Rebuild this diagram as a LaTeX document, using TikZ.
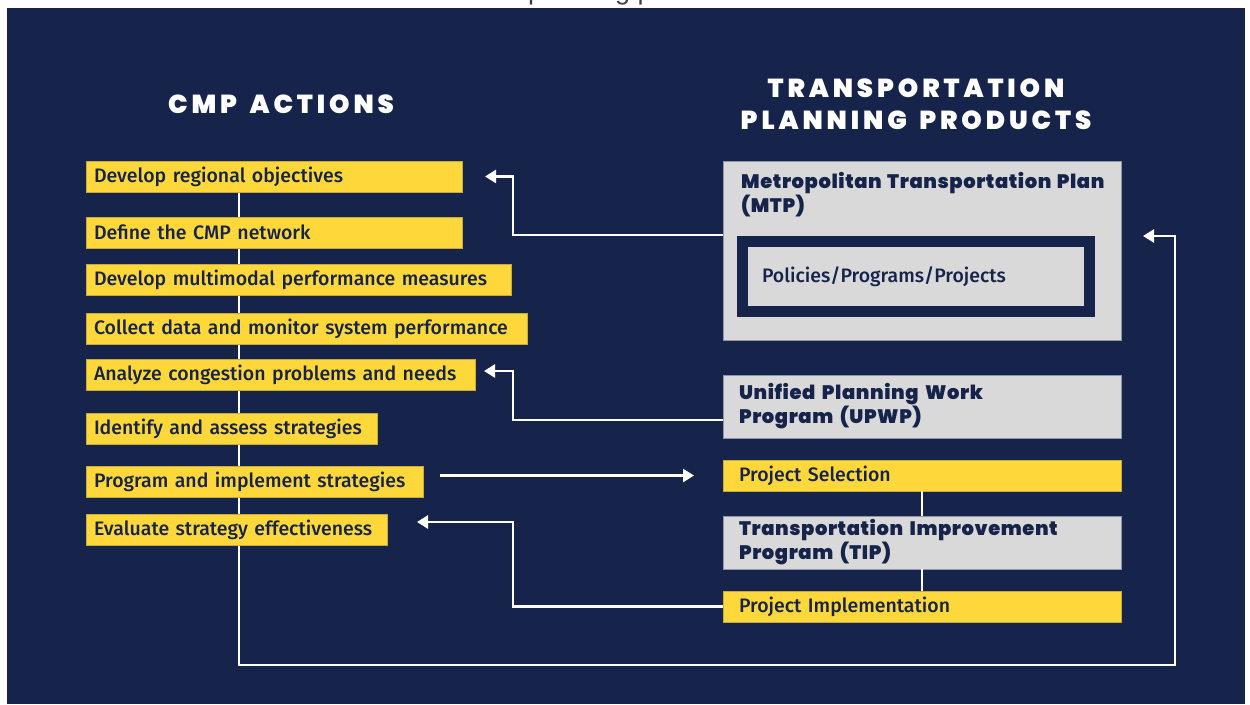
\documentclass[tikz,border=0pt]{standalone}
\usepackage{fontspec}
\setmainfont{Fira Sans}[UprightFont=* Medium]
\newfontfamily\headfont{Poppins}[UprightFont=* Black, LetterSpace=15, WordSpace=1.5]
\newfontfamily\titlefont{Poppins}[UprightFont=* Black, LetterSpace=3, WordSpace=1.4]
\newfontfamily\topfont{Liberation Sans}
\usetikzlibrary{arrows.meta}
\definecolor{navy}{HTML}{16244B}
\definecolor{yel}{HTML}{FED83A}
\definecolor{yelline}{HTML}{C9AA3C}
\definecolor{lgray}{HTML}{D9D9D9}
\definecolor{grayline}{HTML}{8E95A8}
\pgfdeclarelayer{back}
\pgfdeclarelayer{bg}
\pgfsetlayers{back,bg,main}
\tikzset{
  act/.style={fill=yel, draw=yelline, line width=0.6pt, text=navy,
    font=\fontsize{19.5}{23}\selectfont, anchor=north west, minimum height=31pt,
    inner xsep=8pt, inner ysep=0pt, outer sep=0pt, align=left},
  prod/.style={fill=lgray, draw=grayline, line width=0.6pt, text=navy,
    font=\titlefont\fontsize{19.5}{24}\selectfont, anchor=north west,
    minimum width=398pt, inner xsep=16pt, inner ysep=0pt, outer sep=0pt, align=left,
    text width=366pt},
  yprod/.style={act, minimum width=398pt, inner xsep=16pt, text width=366pt},
  head/.style={text=white, font=\headfont\fontsize{26}{32}\selectfont, align=center},
  conn/.style={draw=white, line width=2.5pt},
  arr/.style={conn, -{Triangle[length=11pt,width=13pt]}}
}
\begin{document}
\begin{tikzpicture}[x=1pt,y=-1pt]
\useasboundingbox (0,0) rectangle (1250,704);
\clip (0,0) rectangle (1250,704);
\begin{pgfonlayer}{back}
\fill[white] (0,0) rectangle (1250,704);
\node[font=\topfont\fontsize{27}{30}\selectfont, text=black!75, anchor=base, inner sep=0pt] (cap) at (634,-0.5) {planning process.};
\fill[navy] (7,8) rectangle (1245,704);
\end{pgfonlayer}

% headers
\node[head] (h1) at (281,104) {CMP ACTIONS};
\node[head] (h2) at (916,104) {TRANSPORTATION\\PLANNING PRODUCTS};

\coordinate (lb) at (239,665);
\coordinate (rb) at (1175,665);

% CMP action boxes
\node[act, text width=360pt] (a1) at (86,161) {Develop regional objectives};
\node[act, text width=360pt] (a2) at (86,217) {Define the CMP network};
\node[act, text width=409pt] (a3) at (86,264) {Develop multimodal performance measures};
\node[act, text width=425pt] (a4) at (86,313) {Collect data and monitor system performance};
\node[act, text width=373pt] (a5) at (86,359) {Analyze congestion problems and needs};
\node[act, text width=275pt] (a6) at (86,413) {Identify and assess strategies};
\node[act, text width=321pt] (a7) at (86,466) {Program and implement strategies};
\node[act, text width=285pt] (a8) at (86,514) {Evaluate strategy effectiveness};

% product boxes
\node[prod, minimum height=179pt] (mtp) at (723,161) {};
\node[text=navy, font=\titlefont\fontsize{19.5}{24}\selectfont, anchor=north west, align=left, inner sep=0pt] (mtpt) at (741,172) {Metropolitan Transportation Plan\\(MTP)};
\node[fill=lgray, draw=navy, line width=11pt, outer sep=0pt, minimum width=346.5pt, minimum height=70pt,
  text width=307.5pt, inner xsep=19.5pt, align=left, text=navy, font=\fontsize{19.5}{23}\selectfont] (ppp) at (915.75,276.5) {Policies/Programs/Projects};
\node[prod, minimum height=63pt] (upwp) at (723,375) {Unified Planning Work\\Program (UPWP)};
\node[yprod] (ps) at (723,460) {Project Selection};
\node[prod, minimum height=53pt] (tip) at (723,516) {Transportation Improvement\\Program (TIP)};
\node[yprod] (pi) at (723,591) {Project Implementation};

% connectors
\begin{pgfonlayer}{bg}
\draw[arr, shorten >=22pt] (a1.south -| lb) -- (lb) -- (rb) |- ([yshift=14.5pt]mtp.east);
\end{pgfonlayer}
\draw[conn] (ps.south) -- (tip.north);
\draw[conn] (tip.south) -- (pi.north);
\draw[arr, shorten >=23pt] ([yshift=15.5pt]mtp.west) -- ++(-210,0) |- (a1.east);
\draw[arr, shorten >=9pt] ([yshift=-13.5pt]upwp.west) -- ++(-210,0) |- ([yshift=3.5pt]a5.east);
\draw[arr, shorten <=17pt, shorten >=29pt] (a7.east |- ps.west) -- (ps.west);
\draw[arr, shorten >=30pt] (pi.west) -- ++(-210,0) |- ([yshift=7.5pt]a8.east);
\end{tikzpicture}
\end{document}
